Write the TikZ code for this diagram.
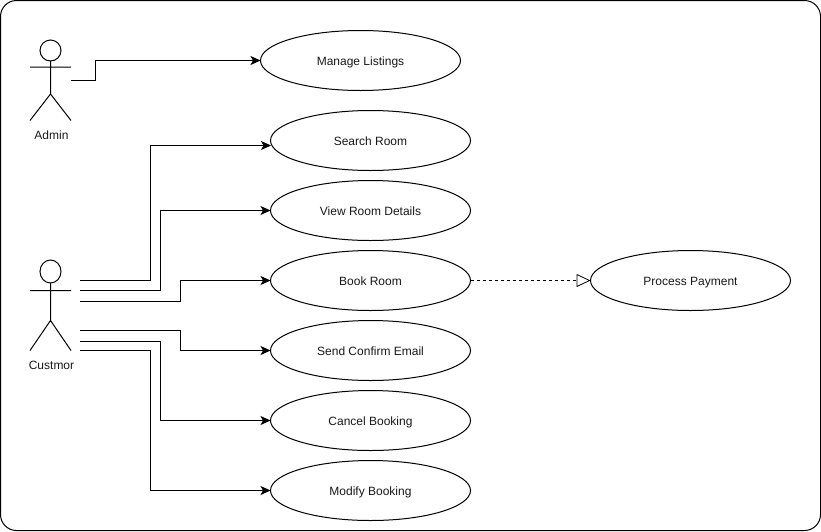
\documentclass[tikz,border=0pt]{standalone}
\usepackage{fontspec}
\setmainfont{Liberation Sans}
\usetikzlibrary{arrows.meta,shapes.geometric}
\tikzset{
  usecase/.style={draw=black,fill=white,ellipse,minimum width=200pt,minimum height=60pt,inner sep=0pt,outer sep=0pt,text height=12.5pt,text depth=2.5pt,font=\fontsize{12}{14}\selectfont,text=black!90},
  actorlabel/.style={inner sep=0pt,text height=12.5pt,text depth=2.5pt,font=\fontsize{12}{14}\selectfont,text=black!90},
  stick/.style={draw=black,line width=1pt},
  link/.style={draw=black,line width=1pt,-{Stealth[length=10pt,width=9pt,inset=2.5pt]}},
  realize/.style={draw=black,line width=0.8pt,dash pattern=on 3pt off 3pt,-{Triangle[open,length=14pt,width=13pt,fill=white]}}
}
\begin{document}
\begin{tikzpicture}[x=1pt,y=-1pt,line width=1pt]
\useasboundingbox (0,0) rectangle (821,531);
\draw[black,rounded corners=16pt] (0.5,0.5) rectangle (820.5,530.5);

% use cases
\node[usecase] (manage) at (360.5,60.5) {Manage Listings};
\node[usecase] (search) at (370.5,140.5) {Search Room};
\node[usecase] (details) at (370.5,210.5) {View Room Details};
\node[usecase] (book) at (370.5,280.5) {Book Room};
\node[usecase] (confirm) at (370.5,350.5) {Send Confirm Email};
\node[usecase] (cancel) at (370.5,420.5) {Cancel Booking};
\node[usecase] (modify) at (370.5,490.5) {Modify Booking};
\node[usecase] (payment) at (690.5,280.5) {Process Payment};

% actors
\draw[stick] (50.5,50.5) circle[x radius=10.5pt,y radius=10.5pt];
\draw[stick] (50.5,61) -- (50.5,94) (30,67) -- (71,67) (30,120.5) -- (50.5,94) -- (71,120.5);
\node[actorlabel] (admin) at (51.5,134.5) {Admin};

\draw[stick] (50.5,271.5) circle[x radius=10.5pt,y radius=11.5pt];
\draw[stick] (50.5,283) -- (50.5,320.5) (30,290.5) -- (71,290.5) (30,350.5) -- (50.5,320.5) -- (71,350.5);
\node[actorlabel] (custmor) at (51.5,364.5) {Custmor};

% free ends
\coordinate (a1) at (71,80.5);
\coordinate (c1) at (80,280.5);
\coordinate (c2) at (80,290.5);
\coordinate (c3) at (80,301);
\coordinate (c4) at (80,330.5);
\coordinate (c5) at (80,341);
\coordinate (c6) at (80,350.5);
\coordinate (searchin) at (271,145.5);

% connectors
\draw[link] (a1) -- (95.5,80.5) -- (95.5,60.5) -- (manage.west);
\draw[link] (c1) -- (150.5,280.5) -- (150.5,145.5) -- (searchin);
\draw[link] (c2) -- (160.5,290.5) -- (160.5,210.5) -- (details.west);
\draw[link] (c3) -- (180.5,301) -- (180.5,280.5) -- (book.west);
\draw[link] (c4) -- (180.5,330.5) -- (180.5,350.5) -- (confirm.west);
\draw[link] (c5) -- (160.5,341) -- (160.5,420.5) -- (cancel.west);
\draw[link] (c6) -- (150.5,350.5) -- (150.5,490.5) -- (modify.west);
\draw[realize] (book.east) -- (payment.west);
\end{tikzpicture}
\end{document}
